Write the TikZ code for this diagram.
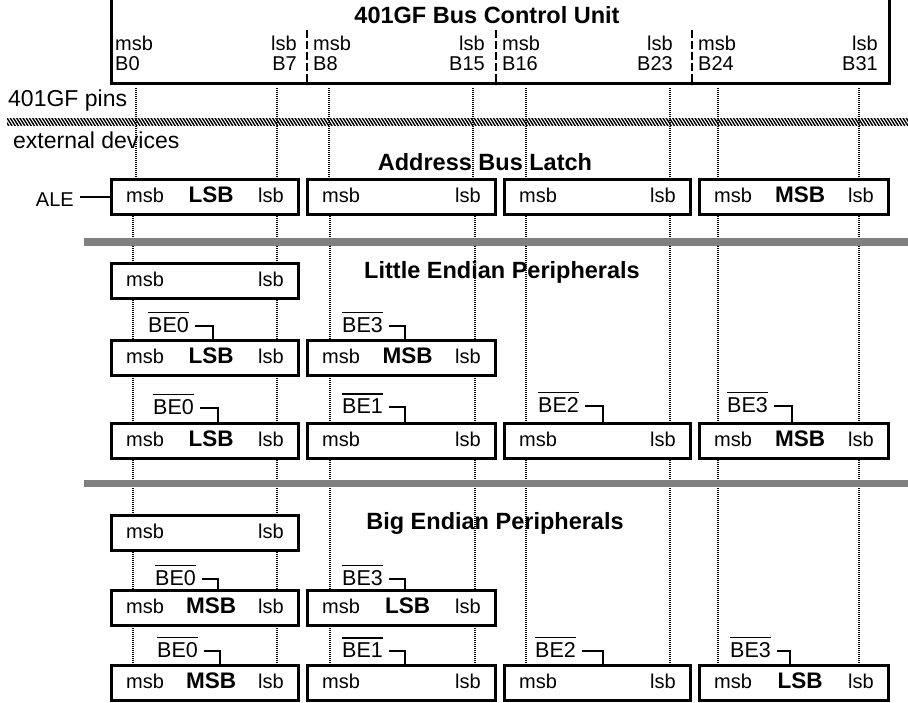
\documentclass[tikz,border=0pt]{standalone}
\usepackage{fontspec}
\setmainfont{Liberation Sans}
\tikzset{
  bx/.style={draw, line width=3pt, fill=white, minimum height=35pt, inner sep=0pt},
  sm/.style={inner sep=0pt, font=\fontsize{20}{22}\selectfont},
  lg/.style={inner sep=0pt, font=\fontsize{23}{26}\selectfont},
  bd/.style={inner sep=0pt, font=\fontsize{22.5}{26}\selectfont\bfseries},
  ttl/.style={inner sep=0pt, font=\fontsize{23.5}{26}\selectfont\bfseries},
  bel/.style={inner sep=0pt, font=\fontsize{21.5}{24}\selectfont},
  brk/.style={line width=2pt},
  ovl/.style={line width=1.2pt},
  dots/.style={line width=1.5pt, dash pattern=on 1pt off 1pt},
  sepline/.style={line width=2pt, dash pattern=on 8pt off 3pt},
  graybar/.style={fill=black!50},
  frame/.style={line width=3pt},
}
% #1 name, #2 x centre, #3 width, #4 y centre, #5 bold label
\newcommand\bytebox[5]{%
  \node[bx, minimum width=#3pt] (#1) at (#2,#4) {};
  \node[sm, anchor=base west] (#1m) at ([shift={(16,5.5)}]#1.west) {msb};
  \node[sm, anchor=base east] (#1l) at ([shift={(-16,5.5)}]#1.east) {lsb};
  \path (#1m.base east) -- (#1l.base west) node[bd, midway, anchor=base] {#5};
}
% #1 name, #2 x, #3 baseline, #4 digit, #5 box, #6 bracket offset
\newcommand\belabel[6]{%
  \node[bel, anchor=base west] (#1) at (#2,#3) {BE#4};
  \draw[ovl] ([yshift=4pt]#1.north west) -- ([yshift=4pt]#1.north east);
  \draw[brk] ([shift={(6,-6.5)}]#1.base east) -| ([xshift=#6pt]#5.north west);
}
\begin{document}
\begin{tikzpicture}[x=1pt,y=-1pt]
\useasboundingbox (0,0) rectangle (908,702);

% guide lines
\foreach \x in {136,277,329,473,526,670,718,859}
  \draw[dots] (\x,88) -- (\x,180);
\foreach \x in {133,277,330,475,526,670,718,859}
  \draw[dots] (\x,214) -- (\x,702);

% bus control unit frame
\draw[frame] (111.5,-2) -- (111.5,83.3) -- (889,83.3) -- (889,-2);
\foreach \x in {307,496,692}
  \draw[sepline] (\x,30) -- (\x,85);
\node[ttl, anchor=base] (bcu) at (487,23) {401GF Bus Control Unit};
\node[sm, anchor=base west] (m0) at (115,50) {msb};
\node[sm, anchor=base west] (b0) at (115,70) {B0};
\node[sm, anchor=base east] (l0) at (297,50) {lsb};
\node[sm, anchor=base east] (b7) at (297,70) {B7};
\node[sm, anchor=base west] (m1) at (313,50) {msb};
\node[sm, anchor=base west] (b8) at (313,70) {B8};
\node[sm, anchor=base east] (l1) at (485,50) {lsb};
\node[sm, anchor=base east] (b15) at (485,70) {B15};
\node[sm, anchor=base west] (m2) at (502,50) {msb};
\node[sm, anchor=base west] (b16) at (502,70) {B16};
\node[sm, anchor=base east] (l2) at (673,50) {lsb};
\node[sm, anchor=base east] (b23) at (673,70) {B23};
\node[sm, anchor=base west] (m3) at (698,50) {msb};
\node[sm, anchor=base west] (b24) at (698,70) {B24};
\node[sm, anchor=base east] (l3) at (878,50) {lsb};
\node[sm, anchor=base east] (b31) at (878,70) {B31};

% pins / hatched boundary
\node[lg, anchor=base west] (pins) at (8,106) {401GF pins};
\begin{scope}
  \clip (7,118) rectangle (908,125);
  \foreach \x in {0,3.2,...,912}
    \draw[line width=1.4pt] (\x,117) -- (\x+5.7,126);
\end{scope}
\node[lg, anchor=base west] (ext) at (13,148) {external devices};

% separators
\fill[graybar] (84,238) rectangle (908,246);
\fill[graybar] (84,480) rectangle (908,487);

% Address bus latch
\node[ttl, anchor=base] (abl) at (485,170) {Address Bus Latch};
\bytebox{a1}{205}{187}{197}{LSB}
\bytebox{a2}{401.5}{188}{197}{}
\bytebox{a3}{597.5}{186}{197}{}
\bytebox{a4}{794}{189}{197}{MSB}
\node[sm, anchor=base east] (ale) at (74,206) {ALE};
\draw[brk] ([xshift=6pt]ale.east |- a1.west) -- (a1.west);

% Little endian
\node[ttl, anchor=base] (let) at (502,278) {Little Endian Peripherals};
\bytebox{la}{205}{187}{281}{}
\bytebox{lba}{205}{187}{357.5}{LSB}
\bytebox{lbb}{401.5}{188}{357.5}{MSB}
\belabel{lbe0}{148}{332}{0}{lba}{103}
\belabel{lbe3}{342}{332}{3}{lbb}{99}
\bytebox{lca}{205}{187}{441}{LSB}
\bytebox{lcb}{401.5}{188}{441}{}
\bytebox{lcc}{597.5}{186}{441}{}
\bytebox{lcd}{794}{189}{441}{MSB}
\belabel{lce0}{153}{414}{0}{lca}{108}
\belabel{lce1}{342}{413}{1}{lcb}{99}
\belabel{lce2}{538}{412}{2}{lcc}{100}
\belabel{lce3}{727}{412}{3}{lcd}{94}

% Big endian
\node[ttl, anchor=base] (bet) at (495,529) {Big Endian Peripherals};
\bytebox{ba}{205}{187}{532.5}{}
\bytebox{bba}{205}{187}{608}{MSB}
\bytebox{bbb}{401.5}{188}{608}{LSB}
\belabel{bbe0}{155}{585}{0}{bba}{108}
\belabel{bbe3}{342}{585}{3}{bbb}{99}
\bytebox{bca}{205}{187}{682.5}{MSB}
\bytebox{bcb}{401.5}{188}{682.5}{}
\bytebox{bcc}{597.5}{186}{682.5}{}
\bytebox{bcd}{794}{189}{682.5}{LSB}
\belabel{bce0}{157}{657}{0}{bca}{110}
\belabel{bce1}{342}{657}{1}{bcb}{99}
\belabel{bce2}{535}{657}{2}{bcc}{100}
\belabel{bce3}{730}{657}{3}{bcd}{92}
\end{tikzpicture}
\end{document}
